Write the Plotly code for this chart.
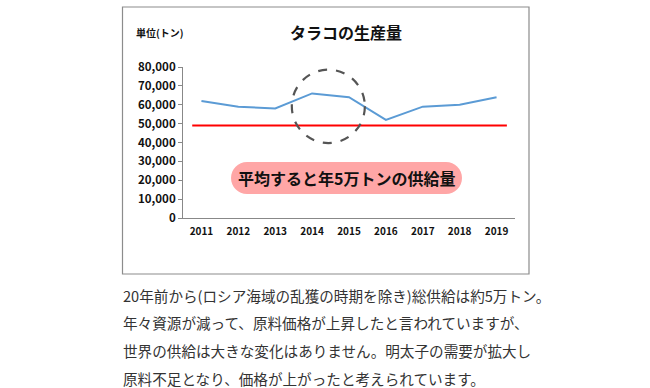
import plotly.graph_objects as go

years = ["2011", "2012", "2013", "2014", "2015", "2016", "2017", "2018", "2019"]
production = [62000, 59000, 58000, 66000, 64000, 52000, 59000, 60000, 64000]
average_supply = 49000
y_ticks = [0, 10000, 20000, 30000, 40000, 50000, 60000, 70000, 80000]

title_text = "タラコの生産量"
unit_text = "単位(トン)"
callout_text = "平均すると年5万トンの供給量"
body_lines = [
    "20年前から(ロシア海域の乱獲の時期を除き)総供給は約5万トン。",
    "年々資源が減って、原料価格が上昇したと言われていますが、",
    "世界の供給は大きな変化はありません。明太子の需要が拡大し",
    "原料不足となり、価格が上がったと考えられています。",
]

W, H = 650, 388
L, R, T, B = 183, 515, 67, 218
FONT = "Noto Sans CJK JP"


def X(px):
    return (px - L) / (R - L)


def Y(py):
    return (B - py) / (B - T)


fig = go.Figure()
fig.add_trace(go.Scatter(
    x=years, y=production, mode="lines",
    line=dict(color="#5B9BD5", width=2),
    hoverinfo="x+y", showlegend=False,
))

shapes = []
# outer frame
shapes.append(dict(type="rect", xref="paper", yref="paper",
                   x0=X(122.5), x1=X(529), y0=Y(274), y1=Y(7),
                   line=dict(color="#8c8c8c", width=1.2), fillcolor="rgba(0,0,0,0)",
                   layer="below"))
# average line
shapes.append(dict(type="line", xref="x", yref="y",
                   x0=-0.25, x1=8.28, y0=average_supply, y1=average_supply,
                   line=dict(color="#FF0000", width=2)))
# dashed ellipse
shapes.append(dict(type="circle", xref="x", yref="y",
                   x0=2.45, x1=4.43, y0=39700, y1=78600,
                   line=dict(color="#555555", width=2.2, dash="dash")))

# pill
x0p, x1p, y0p, y1p = 231, 462, 162, 194
r = (y1p - y0p) / 2
k = 0.5523 * r
cy = (y0p + y1p) / 2


def P(px, py):
    return f"{X(px):.5f},{Y(py):.5f}"


path = (
    f"M {P(x0p + r, y0p)} L {P(x1p - r, y0p)} "
    f"C {P(x1p - r + k, y0p)} {P(x1p, cy - k)} {P(x1p, cy)} "
    f"C {P(x1p, cy + k)} {P(x1p - r + k, y1p)} {P(x1p - r, y1p)} "
    f"L {P(x0p + r, y1p)} "
    f"C {P(x0p + r - k, y1p)} {P(x0p, cy + k)} {P(x0p, cy)} "
    f"C {P(x0p, cy - k)} {P(x0p + r - k, y0p)} {P(x0p + r, y0p)} Z"
)
shapes.append(dict(type="path", xref="paper", yref="paper", path=path,
                   fillcolor="#FFA6A6", line=dict(width=0)))

annotations = []
annotations.append(dict(text=f"<b>{title_text}</b>", xref="paper", yref="paper",
                        x=X(346), y=Y(32), xanchor="center", yanchor="middle",
                        showarrow=False, font=dict(family=FONT, size=16, color="#111")))
annotations.append(dict(text=f"<b>{unit_text}</b>", xref="paper", yref="paper",
                        x=X(134), y=Y(33), xanchor="left", yanchor="middle",
                        showarrow=False, font=dict(family=FONT, size=10, color="#111")))
annotations.append(dict(text=f"<b>{callout_text}</b>", xref="paper", yref="paper",
                        x=X(346.5), y=Y(178), xanchor="center", yanchor="middle",
                        showarrow=False, font=dict(family=FONT, size=16, color="#111")))
line_y = [295, 322.8, 350.5, 378.3]
for txt, yy in zip(body_lines, line_y):
    annotations.append(dict(text=txt, xref="paper", yref="paper",
                            x=X(121), y=Y(yy), xanchor="left", yanchor="middle",
                            showarrow=False, font=dict(family=FONT, size=14.6, color="#333")))

fig.update_layout(
    width=W, height=H,
    margin=dict(l=L, r=W - R, t=T, b=H - B),
    paper_bgcolor="white", plot_bgcolor="white",
    font=dict(family=FONT),
    shapes=shapes, annotations=annotations,
    xaxis=dict(type="category", range=[-0.5, 8.5], showgrid=False, zeroline=False,
               showline=True, linecolor="#888", linewidth=1, ticks="",
               ticklabelstandoff=4,
               tickfont=dict(family=FONT, size=10, color="#111", weight="bold"),
               fixedrange=True),
    yaxis=dict(range=[0, 80000], tickvals=y_ticks, tickformat=",", showgrid=False,
               zeroline=False, showline=True, linecolor="#888", linewidth=1,
               ticks="outside", ticklen=4, tickcolor="#888",
               tickfont=dict(family=FONT, size=11.5, color="#111", weight="bold"),
               fixedrange=True),
)

fig.write_html("out.html", config={"displayModeBar": False},
               post_script="document.body.style.margin='0';document.body.style.overflow='hidden';")
